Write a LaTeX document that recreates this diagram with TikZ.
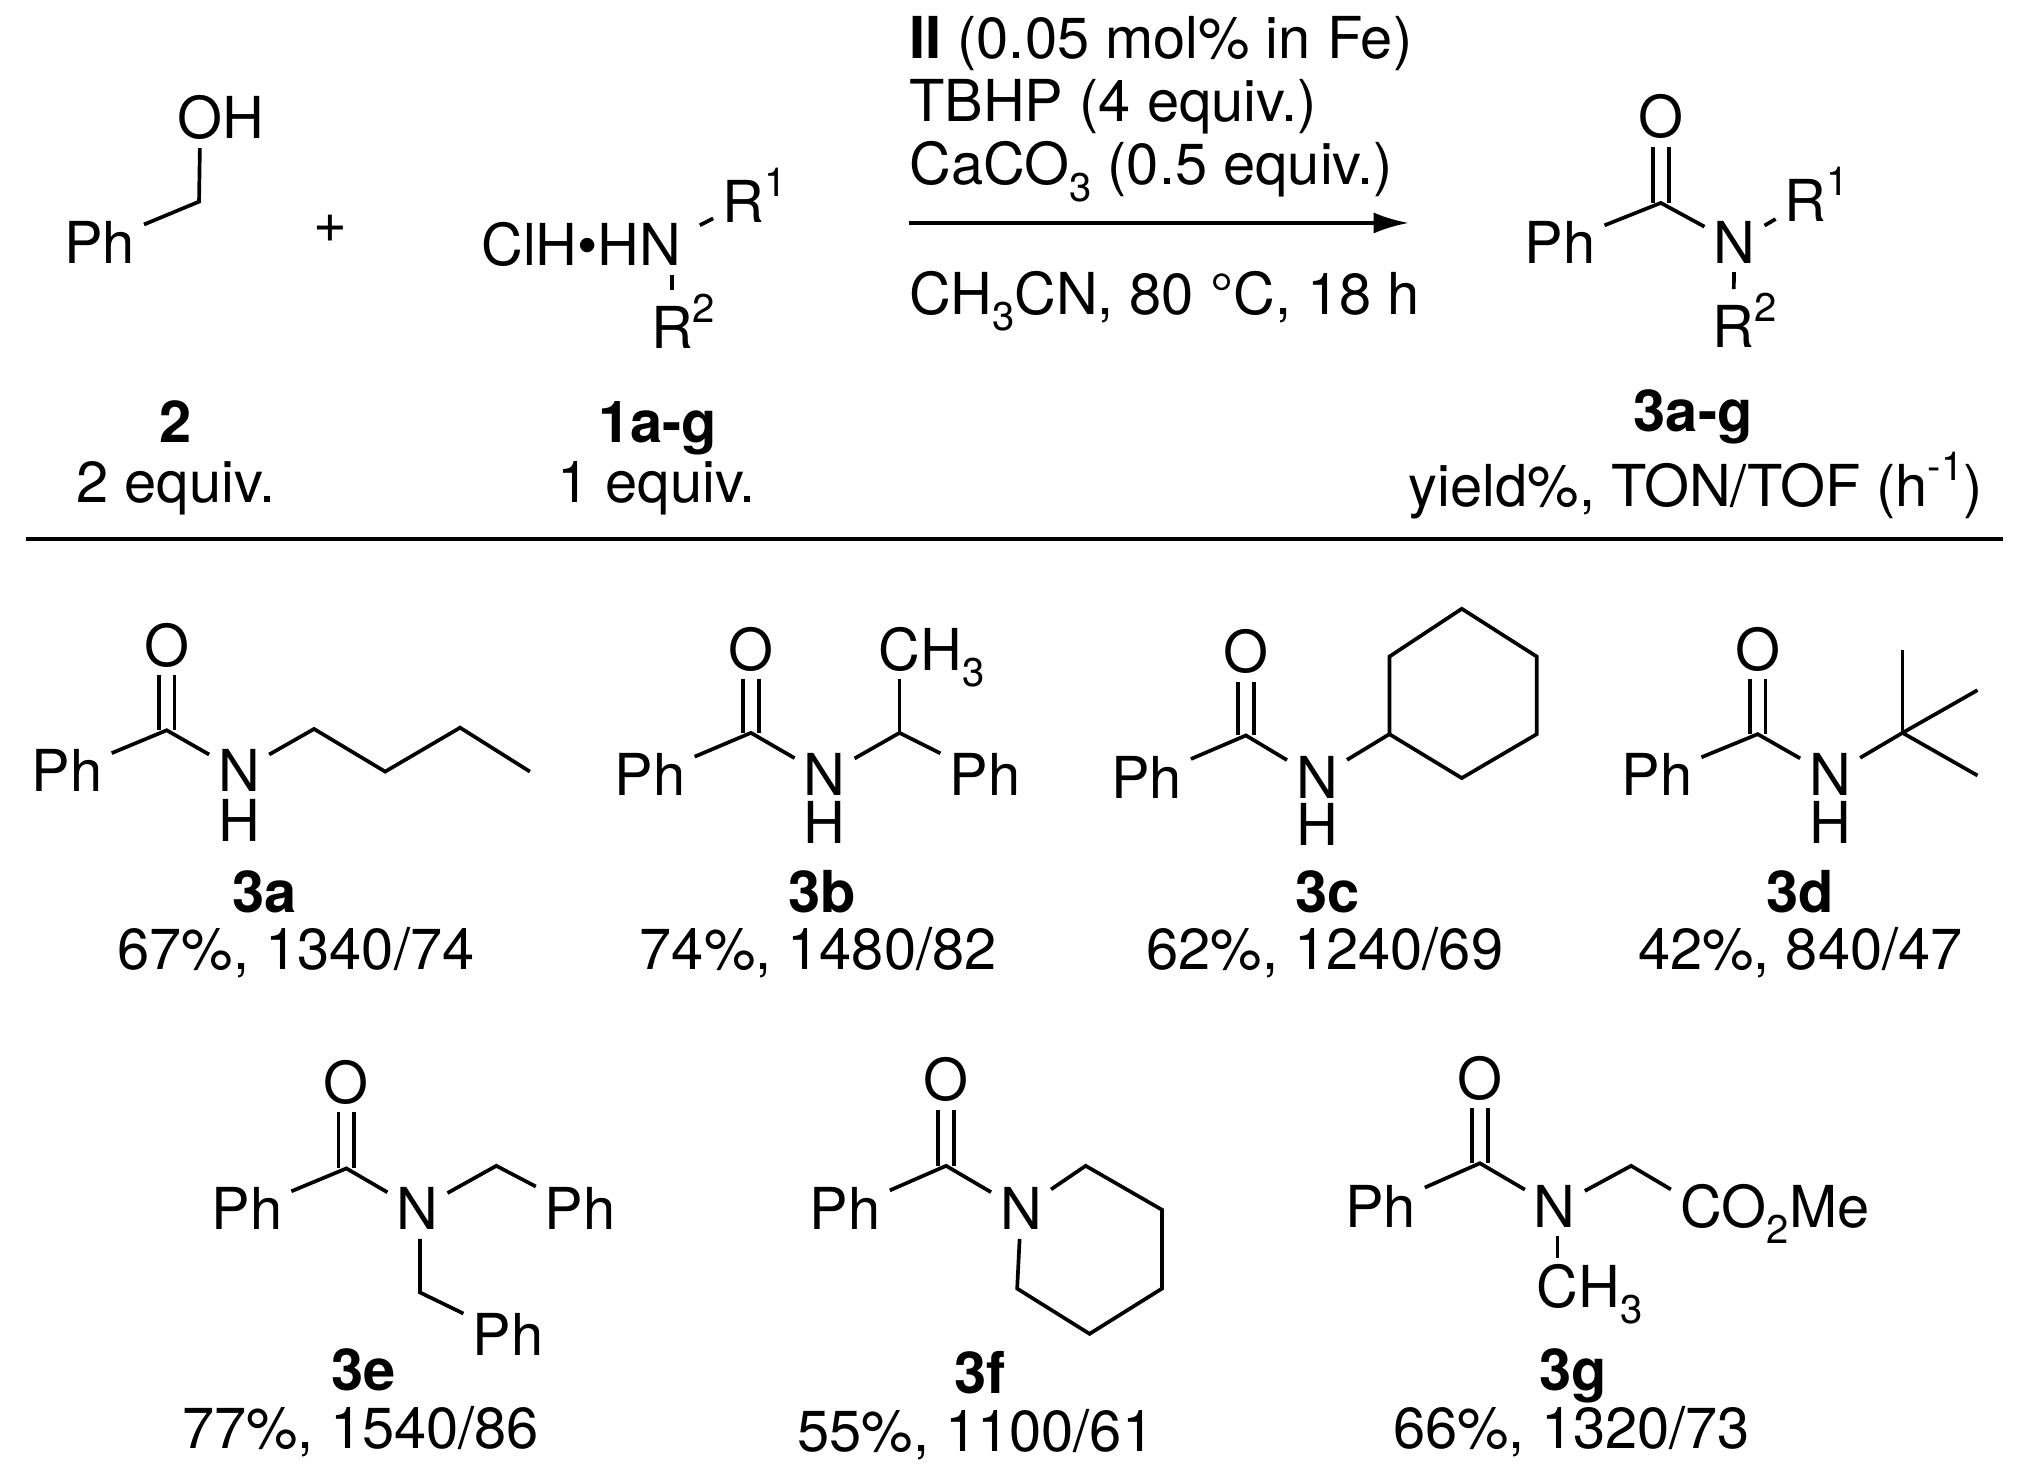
\documentclass[tikz,border=0pt]{standalone}
\usepackage{fontspec}
\setmainfont{TeX Gyre Heros}
\usetikzlibrary{arrows.meta}
\newcommand{\lowidx}[1]{\raisebox{-.28em}{\fontsize{11.4}{12}\selectfont #1}}
\newcommand{\upidx}[1]{\raisebox{.45em}{\fontsize{11.4}{12}\selectfont #1}}
\tikzset{
  atom/.style={inner sep=0pt, outer sep=2.6pt, text height=11.4pt, text depth=0pt, font=\fontsize{16.45}{18}\selectfont},
  hatom/.style={atom, outer sep=0pt, text height=10.5pt},
  lbl/.style={inner sep=0pt, anchor=base, font=\fontsize{16.45}{18}\selectfont},
  condition/.style={lbl, anchor=base west},
  bond/.style={line width=1.05pt, black},
  dbl/.style={bond, double=white, double distance=3.4pt}
}
\begin{document}
\begin{tikzpicture}[x=0.012925cm, y=-0.012925cm]
\useasboundingbox (0,0) rectangle (1566,1139.7);
\node[atom] (oh2) at (155,92){O\rlap{H}};
\coordinate (c2) at (154,156);
\node[atom] (ph2) at (77,188){Ph};
\draw[bond](oh2) -- (c2) -- (ph2);
\node[lbl, anchor=center] (plus) at (256,177){+};
\node[atom] (n1) at (511,190){\llap{ClH•H}N};
\node[atom] (r11) at (575,157){R\rlap{\upidx{1}}};
\node[atom] (r21) at (520,254){R\rlap{\upidx{2}}};
\draw[bond, shorten <=3pt](n1) -- (r11);
\draw[bond, shorten >=2.5pt](n1.south -| r21) -- (r21);
\node[lbl] (lab2) at (136,342){\textbf{2}};
\node[lbl] (eq2) at (136,389){2 equiv.};
\node[lbl] (lab1) at (509,342){\textbf{1a-g}};
\node[lbl] (eq1) at (508,389){1 equiv.};
\node[condition] (cat) at (703,45){\textbf{II} (0.05 mol\% in Fe)};
\node[condition] (tbhp) at (703,94){TBHP (4 equiv.)};
\node[condition] (caco) at (703,143){CaCO\lowidx{3} (0.5 equiv.)};
\node[condition] (solv) at (703,243){CH\lowidx{3}CN, 80 °C, 18 h};
\coordinate (arrs) at (703,172.5);
\coordinate (arre) at (1090,172.5);
\draw[bond, -{Latex[length=10pt, width=6pt]}](arrs) -- (arre);
\node[atom] (o3) at (1285,91){O};
\coordinate (c3) at (1285,157);
\node[atom] (ph3) at (1207,188){Ph};
\node[atom] (n3) at (1342,188){N};
\node[atom] (r13) at (1397,156){R\rlap{\upidx{1}}};
\node[atom] (r23) at (1341,253){R\rlap{\upidx{2}}};
\draw[dbl](o3) -- (c3);
\draw[bond](ph3) -- (c3) -- (n3);
\draw[bond](n3) -- (r13);
\draw[bond, shorten >=2.5pt](n3) -- (r23);
\node[lbl] (lab3) at (1310,334){\textbf{3a-g}};
\node[lbl] (yield) at (1312,392){yield\%, TON/TOF (h\upidx{-1})};
\coordinate (rules) at (20,417);
\coordinate (rulee) at (1550,417);
\draw[bond, line width=1.2pt](rules) -- (rulee);
\node[atom] (oa) at (129,500){O};
\coordinate (ca) at (129,565);
\node[atom] (pha) at (52,597){Ph};
\node[atom] (na) at (185,597){N};
\node[hatom] (ha) at (185,637){H};
\coordinate (a1) at (243,564);
\coordinate (a2) at (298,597);
\coordinate (a3) at (356,563);
\coordinate (a4) at (410,597);
\draw[dbl](oa) -- (ca);
\draw[bond](pha) -- (ca) -- (na);
\draw[bond](na) -- (a1) -- (a2) -- (a3) -- (a4);
\node[lbl] (laba) at (205,706){\textbf{3a}};
\node[lbl] (vala) at (229,750){67\%, 1340/74};
\node[atom] (ob) at (581,503){O};
\coordinate (cb) at (581,567);
\node[atom] (phb) at (503,600){Ph};
\node[atom] (nb) at (638,600){N};
\node[hatom] (hb) at (638,638){H};
\coordinate (b1) at (696,567);
\node[atom] (meb) at (696,503){C\rlap{H\lowidx{3}}};
\node[atom] (phb2) at (762,600){Ph};
\draw[dbl](ob) -- (cb);
\draw[bond](phb) -- (cb) -- (nb);
\draw[bond](nb) -- (b1) -- (phb2);
\draw[bond](b1) -- (meb);
\node[lbl] (labb) at (636,706){\textbf{3b}};
\node[lbl] (valb) at (633,750){74\%, 1480/82};
\node[atom] (oc) at (964,505){O};
\coordinate (cc) at (964,569);
\node[atom] (phc) at (887,602){Ph};
\node[atom] (nc) at (1019,602){N};
\node[hatom] (hc) at (1019,640){H};
\coordinate (rc1) at (1075,568);
\coordinate (rc2) at (1075,508);
\coordinate (rc3) at (1131,471);
\coordinate (rc4) at (1189,508);
\coordinate (rc5) at (1189,568);
\coordinate (rc6) at (1131,602);
\draw[dbl](oc) -- (cc);
\draw[bond](phc) -- (cc) -- (nc);
\draw[bond](nc) -- (rc1);
\draw[bond](rc1) -- (rc2) -- (rc3) -- (rc4) -- (rc5) -- (rc6) -- cycle;
\node[lbl] (labc) at (1027,706){\textbf{3c}};
\node[lbl] (valc) at (1025,750){62\%, 1240/69};
\node[atom] (od) at (1360,503){O};
\coordinate (cd) at (1360,568);
\node[atom] (phd) at (1282,600){Ph};
\node[atom] (nd) at (1416,600){N};
\node[hatom] (hd) at (1416,638){H};
\coordinate (d1) at (1472,567);
\coordinate (d2) at (1472,503);
\coordinate (d3) at (1530,534);
\coordinate (d4) at (1530,600);
\draw[dbl](od) -- (cd);
\draw[bond](phd) -- (cd) -- (nd);
\draw[bond](nd) -- (d1);
\draw[bond](d1) -- (d2);
\draw[bond](d1) -- (d3);
\draw[bond](d1) -- (d4);
\node[lbl] (labd) at (1393,706){\textbf{3d}};
\node[lbl] (vald) at (1393,750){42\%, 840/47};
\node[atom] (oe) at (268,838){O};
\coordinate (ce) at (268,904);
\node[atom] (phe) at (191,936){Ph};
\node[atom] (ne) at (323,936){N};
\coordinate (e1) at (384,902);
\node[atom] (phe2) at (449,936){Ph};
\coordinate (e2) at (325,1000);
\node[atom] (phe3) at (393,1033){Ph};
\draw[dbl](oe) -- (ce);
\draw[bond](phe) -- (ce) -- (ne);
\draw[bond](ne) -- (e1) -- (phe2);
\draw[bond](ne.south -| e2) -- (e2) -- (phe3);
\node[lbl] (labe) at (281,1076){\textbf{3e}};
\node[lbl] (vale) at (279,1121){77\%, 1540/86};
\node[atom] (of) at (732,836){O};
\coordinate (cf) at (732,902);
\node[atom] (phf) at (654,936){Ph};
\node[atom] (nf) at (790,936){N};
\coordinate (f1) at (840,902);
\coordinate (f2) at (899,936);
\coordinate (f3) at (899,997);
\coordinate (f4) at (843,1032);
\coordinate (f5) at (787,997);
\draw[dbl](of) -- (cf);
\draw[bond](phf) -- (cf) -- (nf);
\draw[bond](nf) -- (f1) -- (f2) -- (f3) -- (f4) -- (f5) -- (nf);
\node[lbl] (labf) at (758,1078){\textbf{3f}};
\node[lbl] (valf) at (755,1123){55\%, 1100/61};
\node[atom] (og) at (1145,835){O};
\coordinate (cg) at (1145,900);
\node[atom] (phg) at (1068,934){Ph};
\node[atom] (ng) at (1203,934){N};
\coordinate (g1) at (1262,902);
\node[atom] (estg) at (1316,934){C\rlap{O\lowidx{2}Me}};
\node[atom] (meg) at (1205,996){C\rlap{H\lowidx{3}}};
\draw[dbl](og) -- (cg);
\draw[bond](phg) -- (cg) -- (ng);
\draw[bond](ng) -- (g1) -- (estg);
\draw[bond](ng.south -| meg) -- (meg);
\node[lbl] (labg) at (1217,1076){\textbf{3g}};
\node[lbl] (valg) at (1216,1121){66\%, 1320/73};
\end{tikzpicture}
\end{document}
